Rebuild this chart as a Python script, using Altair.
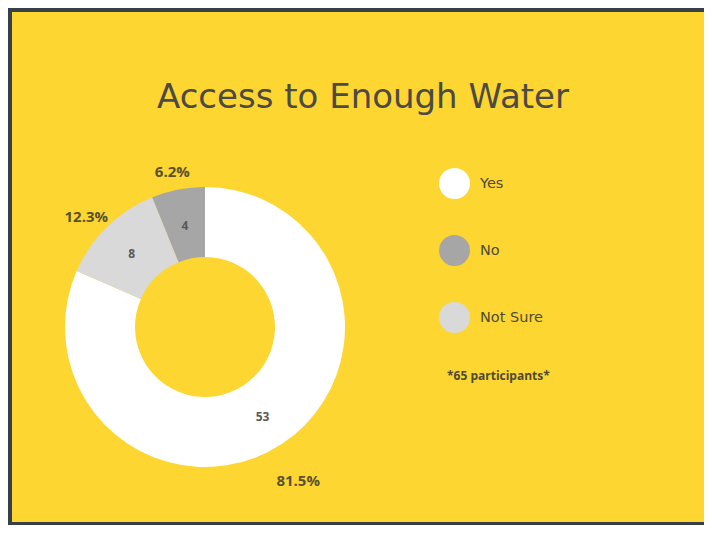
import altair as alt
import pandas as pd

# Data (clockwise slice order from 12 o'clock)
categories = ["Yes", "Not Sure", "No"]
counts = [53, 8, 4]
percent_labels = ["81.5%", "12.3%", "6.2%"]

legend_order = ["Yes", "No", "Not Sure"]
legend_colors = ["#ffffff", "#a6a6a6", "#d9d9d9"]

title_text = "Access to Enough Water"
note_text = "*65 participants*"

df = pd.DataFrame({
    "category": categories,
    "count": counts,
    "pct": percent_labels,
    "rank": list(range(len(categories))),
})

CX, CY = 193, 315

base = alt.Chart(df).encode(
    theta=alt.Theta("count:Q", stack=True),
    order=alt.Order("rank:Q"),
)

arcs = base.mark_arc(outerRadius=140, innerRadius=70).encode(
    x=alt.value(CX),
    y=alt.value(CY),
    color=alt.Color(
        "category:N",
        scale=alt.Scale(domain=legend_order, range=legend_colors),
        legend=alt.Legend(
            orient="none", legendX=427, legendY=156, title=None,
            symbolType="circle", symbolSize=961, symbolStrokeWidth=0,
            symbolOpacity=1, rowPadding=36, labelOffset=10,
            labelFont="DejaVu Sans", labelFontSize=14.5, labelColor="#4f4a38",
            padding=0,
        ),
    ),
)

count_text = base.mark_text(
    radius=105, font="Open Sans", fontWeight="bold", fontSize=12, color="#5a5a5a"
).encode(x=alt.value(CX), y=alt.value(CY + 2), text="count:Q")

pct_text = base.mark_text(
    radius=170, font="Open Sans", fontWeight="bold", fontSize=15, color="#5a512f"
).encode(x=alt.value(CX), y=alt.value(CY + 12), text="pct:N")

title = alt.Chart(pd.DataFrame({"t": [title_text]})).mark_text(
    font="DejaVu Sans", fontSize=34, color="#4d4a46",
    align="center", baseline="alphabetic",
).encode(x=alt.value(351), y=alt.value(96), text="t:N")

note = alt.Chart(pd.DataFrame({"t": [note_text]})).mark_text(
    font="Open Sans", fontSize=12, fontWeight="bold", color="#4f4a33",
    align="left", baseline="middle",
).encode(x=alt.value(435), y=alt.value(364), text="t:N")

chart = alt.layer(arcs, count_text, pct_text, title, note).properties(
    width=692,
    height=510,
    background="#373f47",
    padding={"left": 4, "top": 4, "right": 0, "bottom": 3},
    autosize="none",
).configure_view(fill="#fdd631", strokeWidth=0)

chart.save("out.html", embed_options={"renderer": "svg", "actions": False})
